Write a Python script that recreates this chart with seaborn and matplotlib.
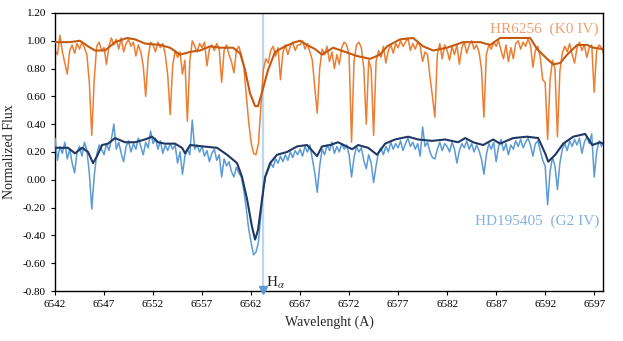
import numpy as np
import pandas as pd
import matplotlib
matplotlib.use("Agg")
import matplotlib.pyplot as plt
import seaborn as sns

# ---- data ----
# high-resolution spectra sampled every 0.25 A from 6542.00 to 6598.00
wl_grid = np.arange(6542.0, 6598.001, 0.25)

hr6256_flux = [
    0.93, 0.90, 1.04, 0.92, 0.84, 0.76, 0.93, 0.97, 0.91, 0.98, 0.94, 0.99, 0.95, 0.90, 0.70, 0.32, 0.72, 0.96, 0.99, 0.93,
    0.95, 0.83, 0.96, 1.02, 0.97, 1.01, 0.94, 1.02, 0.92, 0.98, 1.01, 0.96, 0.99, 0.89, 0.97, 0.92, 0.82, 0.60, 0.88, 0.99,
    0.97, 0.92, 0.99, 0.95, 0.98, 0.90, 0.75, 0.47, 0.82, 0.93, 0.88, 0.92, 0.76, 0.86, 0.42, 0.85, 1.00, 0.96, 0.92, 0.98,
    0.95, 0.99, 0.82, 0.94, 0.97, 0.93, 0.98, 0.94, 0.70, 0.93, 0.97, 0.90, 0.85, 0.77, 0.93, 0.96, 0.90, 0.82, 0.62, 0.42,
    0.27, 0.19, 0.18, 0.26, 0.52, 0.79, 0.87, 0.84, 0.93, 0.96, 0.89, 0.95, 0.72, 0.92, 0.97, 0.90, 0.96, 0.99, 0.93, 0.97,
    0.97, 1.00, 0.94, 0.98, 0.92, 0.86, 0.66, 0.48, 0.80, 0.94, 0.90, 0.96, 0.85, 0.92, 0.80, 0.90, 0.83, 0.95, 0.99, 0.97,
    0.90, 0.27, 0.85, 0.97, 0.99, 0.95, 0.80, 0.40, 0.86, 0.80, 0.32, 0.85, 0.93, 0.88, 0.96, 0.84, 0.93, 0.97, 0.91, 0.98,
    0.95, 1.00, 0.96, 0.99, 1.02, 0.93, 0.98, 0.94, 0.99, 0.96, 0.85, 0.92, 0.90, 0.74, 0.60, 0.45, 0.90, 0.98, 0.87, 0.97,
    0.93, 0.86, 0.96, 0.90, 0.97, 0.83, 0.95, 0.99, 0.91, 0.97, 1.00, 0.94, 0.97, 0.92, 0.80, 0.45, 0.90, 0.97, 0.94, 0.99,
    0.96, 1.00, 0.93, 0.87, 0.97, 0.85, 0.95, 0.87, 0.98, 1.00, 0.94, 0.99, 0.96, 1.01, 0.97, 0.81, 0.93, 0.96, 0.88, 0.72,
    0.70, 0.29, 0.72, 0.86, 0.80, 0.31, 0.78, 0.91, 0.96, 0.92, 0.98, 0.90, 0.84, 0.95, 0.99, 0.93, 0.97, 0.88, 0.95, 0.97,
    0.63, 0.93, 0.97, 0.95, 0.90,
]

hd195405_flux = [
    0.30, 0.14, 0.24, 0.19, 0.27, 0.15, 0.22, 0.12, 0.05, 0.20, 0.24, 0.17, 0.27, 0.21, 0.05, -0.21, 0.03, 0.18, 0.25, 0.22,
    0.18, 0.26, 0.21, 0.29, 0.40, 0.22, 0.27, 0.19, 0.13, 0.24, 0.28, 0.20, 0.26, 0.22, 0.30, 0.24, 0.18, 0.27, 0.23, 0.35,
    0.26, 0.30, 0.22, 0.28, 0.19, 0.25, 0.21, 0.26, 0.22, 0.25, 0.12, 0.20, 0.04, 0.17, 0.22, 0.18, 0.43, 0.22, 0.25, 0.20,
    0.24, 0.17, 0.21, 0.13, 0.19, 0.22, 0.14, 0.18, 0.02, 0.15, 0.10, 0.13, 0.06, 0.02, 0.09, 0.05, 0.02, -0.07, -0.20, -0.35,
    -0.45, -0.54, -0.52, -0.45, -0.25, -0.06, 0.03, 0.07, 0.12, 0.09, 0.15, 0.12, 0.17, 0.13, 0.18, 0.14, 0.20, 0.16, 0.21, 0.18,
    0.22, 0.17, 0.24, 0.20, 0.25, 0.15, 0.05, -0.09, 0.10, 0.22, 0.18, 0.25, 0.21, 0.27, 0.19, 0.24, 0.20, 0.26, 0.22, 0.25,
    0.18, 0.02, 0.16, 0.24, 0.20, 0.23, 0.14, 0.08, 0.18, 0.12, -0.02, 0.10, 0.20, 0.23, 0.18, 0.24, 0.20, 0.27, 0.22, 0.26,
    0.23, 0.28, 0.21, 0.26, 0.30, 0.24, 0.27, 0.22, 0.26, 0.17, 0.38, 0.24, 0.27, 0.20, 0.16, 0.15, 0.22, 0.27, 0.21, 0.26,
    0.24, 0.20, 0.27, 0.22, 0.12, 0.21, 0.26, 0.23, 0.28, 0.22, 0.26, 0.20, 0.25, 0.21, 0.15, 0.04, 0.18, 0.26, 0.22, 0.27,
    0.13, 0.24, 0.29, 0.21, 0.26, 0.18, 0.25, 0.22, 0.28, 0.24, 0.29, 0.23, 0.27, 0.30, 0.25, 0.17, 0.26, 0.28, 0.21, 0.14,
    0.10, -0.18, 0.06, 0.16, 0.10, -0.07, 0.12, 0.22, 0.26, 0.21, 0.28, 0.24, 0.29, 0.25, 0.30, 0.19, 0.27, 0.31, 0.26, 0.33,
    0.02, 0.20, 0.28, 0.24, 0.27,
]

# smoothed (low-resolution) spectra
hr6256_smooth_wl = [
    6542.0, 6543.53, 6544.55, 6545.37, 6546.08, 6547.10, 6548.12, 6549.35, 6550.16, 6551.18,
    6552.71, 6553.73, 6554.76, 6555.78, 6556.80, 6557.82, 6558.84, 6560.16, 6560.88, 6561.39,
    6561.90, 6562.41, 6562.71, 6563.12, 6563.73, 6564.45, 6565.47, 6566.49, 6567.00, 6567.71,
    6568.53, 6569.24, 6570.37, 6571.59, 6572.82, 6574.14, 6575.16, 6575.88, 6577.20, 6578.53,
    6579.55, 6580.57, 6582.00, 6583.63, 6585.37, 6586.39, 6587.41, 6589.14, 6590.47, 6591.18,
    6592.20, 6592.82, 6593.53, 6594.24, 6595.27, 6596.29, 6596.90, 6597.92,
]
hr6256_smooth = [
    0.99, 0.99, 1.00, 0.96, 0.93, 0.93, 0.99, 1.02, 1.01, 0.98,
    0.97, 0.95, 0.90, 0.92, 0.93, 0.96, 0.95, 0.95, 0.91, 0.79,
    0.62, 0.53, 0.53, 0.63, 0.79, 0.92, 0.96, 0.99, 1.00, 0.97,
    0.94, 0.90, 0.95, 0.92, 0.89, 0.87, 0.90, 0.96, 1.01, 1.02,
    0.96, 0.93, 0.95, 0.99, 0.99, 0.97, 1.02, 1.02, 1.02, 0.94,
    0.87, 0.83, 0.84, 0.90, 0.97, 0.97, 0.95, 0.94,
]

hd195405_smooth_wl = [
    6542.0, 6543.33, 6544.04, 6544.76, 6545.37, 6545.88, 6546.29, 6546.80, 6547.41, 6548.12,
    6549.14, 6550.16, 6551.18, 6551.90, 6552.51, 6553.22, 6554.24, 6554.96, 6555.27, 6555.78,
    6557.10, 6558.53, 6559.55, 6560.57, 6561.08, 6561.59, 6562.10, 6562.41, 6562.71, 6563.12,
    6563.43, 6563.94, 6564.65, 6565.67, 6566.69, 6567.71, 6568.22, 6568.73, 6569.24, 6570.06,
    6570.88, 6572.31, 6572.92, 6573.94, 6574.86, 6575.67, 6576.69, 6578.02, 6579.04, 6580.47,
    6581.80, 6583.12, 6583.84, 6584.65, 6585.67, 6586.69, 6587.41, 6588.73, 6590.16, 6591.29,
    6592.00, 6592.31, 6593.03, 6593.84, 6594.86, 6596.08, 6596.80, 6597.61, 6597.92,
]
hd195405_smooth = [
    0.23, 0.23, 0.19, 0.23, 0.20, 0.12, 0.17, 0.25, 0.26, 0.30,
    0.27, 0.27, 0.29, 0.31, 0.27, 0.26, 0.26, 0.23, 0.19, 0.25,
    0.24, 0.23, 0.18, 0.12, 0.02, -0.14, -0.34, -0.43, -0.36, -0.14,
    0.02, 0.12, 0.18, 0.20, 0.24, 0.25, 0.21, 0.17, 0.24, 0.25,
    0.27, 0.22, 0.25, 0.23, 0.18, 0.26, 0.29, 0.31, 0.29, 0.28,
    0.29, 0.27, 0.30, 0.27, 0.25, 0.29, 0.26, 0.30, 0.31, 0.30,
    0.19, 0.13, 0.18, 0.26, 0.31, 0.33, 0.25, 0.27, 0.26,
]

h_alpha_wl = 6563.2
x_ticks = [6542, 6547, 6552, 6557, 6562, 6567, 6572, 6577, 6582, 6587, 6592, 6597]
y_ticks = [-0.80, -0.60, -0.40, -0.20, 0.00, 0.20, 0.40, 0.60, 0.80, 1.00, 1.20]

# ---- style ----
sns.set_style("white")
plt.rcParams["font.family"] = ["Liberation Serif", "DejaVu Serif"]
plt.rcParams["mathtext.fontset"] = "stix"

fig = plt.figure(figsize=(6.23, 3.41), dpi=100)
ax = fig.add_axes([0.0883, 0.1466, 0.8796, 0.8154])

ax.axvline(h_alpha_wl, color="#BDD7EE", lw=1.6, zorder=1)

orange_hi = pd.DataFrame({"wl": wl_grid, "flux": hr6256_flux})
blue_hi = pd.DataFrame({"wl": wl_grid, "flux": hd195405_flux})
orange_lo = pd.DataFrame({"wl": hr6256_smooth_wl, "flux": hr6256_smooth})
blue_lo = pd.DataFrame({"wl": hd195405_smooth_wl, "flux": hd195405_smooth})

sns.lineplot(data=orange_hi, x="wl", y="flux", ax=ax, color="#ED7D31", lw=1.1,
             estimator=None, sort=False, zorder=2)
sns.lineplot(data=orange_lo, x="wl", y="flux", ax=ax, color="#C55A11", lw=1.5,
             estimator=None, sort=False, zorder=3)
sns.lineplot(data=blue_hi, x="wl", y="flux", ax=ax, color="#5B9BD5", lw=1.1,
             estimator=None, sort=False, zorder=4)
sns.lineplot(data=blue_lo, x="wl", y="flux", ax=ax, color="#1F3864", lw=1.5,
             estimator=None, sort=False, zorder=5)

ax.plot([h_alpha_wl], [-0.795], marker="v", color="#5B9BD5", ms=6, clip_on=False, zorder=6)
ax.text(h_alpha_wl + 0.35, -0.745, r"H$_{\alpha}$", fontsize=11, color="#222222",
        ha="left", va="center")

ax.text(6597.4, 1.08, "HR6256  (K0 IV)", color="#F0A070", fontsize=11,
        ha="right", va="center")
ax.text(6597.5, -0.30, "HD195405  (G2 IV)", color="#82B0DE", fontsize=11,
        ha="right", va="center")

ax.set_xlim(6542, 6597.9)
ax.set_ylim(-0.80, 1.20)
ax.set_xticks(x_ticks)
ax.set_xticklabels([str(t) for t in x_ticks])
ax.set_yticks(y_ticks)
ax.set_yticklabels([f"{t:.2f}" for t in y_ticks])
ax.tick_params(axis="both", labelsize=8, length=3, width=0.8, direction="out",
               bottom=True, left=True, colors="#000000")
ax.set_xlabel("Wavelenght (A)", fontsize=10, labelpad=5)
ax.set_ylabel("Normalized Flux", fontsize=10, labelpad=5)
for s in ax.spines.values():
    s.set_color("black")
    s.set_linewidth(1.0)

fig.savefig("out.png", dpi=100)
